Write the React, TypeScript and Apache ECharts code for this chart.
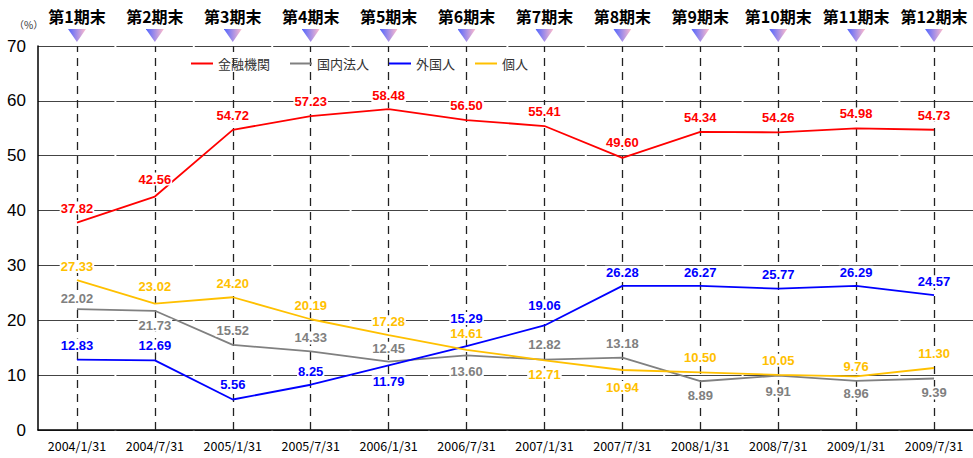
import React, { useEffect, useRef } from "react";
import * as echarts from "echarts";

const dates = ["2004/1/31","2004/7/31","2005/1/31","2005/7/31","2006/1/31","2006/7/31","2007/1/31","2007/7/31","2008/1/31","2008/7/31","2009/1/31","2009/7/31"];
const periods = ["第1期末","第2期末","第3期末","第4期末","第5期末","第6期末","第7期末","第8期末","第9期末","第10期末","第11期末","第12期末"];
const financial = [37.82,42.56,54.72,57.23,58.48,56.50,55.41,49.60,54.34,54.26,54.98,54.73];
const domesticCorp = [22.02,21.73,15.52,14.33,12.45,13.60,12.82,13.18,8.89,9.91,8.96,9.39];
const foreigners = [12.83,12.69,5.56,8.25,11.79,15.29,19.06,26.28,26.27,25.77,26.29,24.57];
const individuals = [27.33,23.02,24.20,20.19,17.28,14.61,12.71,10.94,10.50,10.05,9.76,11.30];
// label placement (t = above, b = below) and extra gap
const financialPos = ["t","t","t","t","t","t","t","t","t","t","t","t"];
const financialGap = [8,11,8,8,7,8,8,9,8,8,8,8];
const domesticPos = ["t","b","t","t","t","b","t","t","b","b","b","b"];
const domesticGap = [4,8,8,7,7,10,9,8,8,9,6,8];
const foreignPos = ["t","t","t","t","b","t","t","t","t","t","t","t"];
const foreignGap = [8,8,8,7,10,21,13,7,7,8,7,7];
const individualPos = ["t","t","t","t","t","t","b","b","t","t","t","t"];
const individualGap = [7,11,7,7,7,10,8,11,8,8,3,8];

const FONT = "'Noto Sans CJK JP', 'Liberation Sans', sans-serif";
const NUMFONT = "'Liberation Sans', Arial, sans-serif";

const triSvg =
  "<svg xmlns='http://www.w3.org/2000/svg' width='18' height='13'><defs><linearGradient id='g' x1='0' y1='0' x2='1' y2='0'><stop offset='0' stop-color='#4f64ff'/><stop offset='1' stop-color='#ffbccc'/></linearGradient></defs><polygon points='0,0 18,0 9,13' fill='url(#g)'/></svg>";
const triUrl = "data:image/svg+xml;charset=utf-8," + encodeURIComponent(triSvg);

function mkSeries(name: string, values: number[], pos: string[], gap: number[], color: string) {
  return {
    name,
    type: "line",
    z: 3,
    data: values.map((v, i) => ({
      value: v,
      label: { position: pos[i] === "t" ? "top" : "bottom", distance: gap[i] },
    })),
    symbol: "circle",
    symbolSize: 0,
    showSymbol: true,
    lineStyle: { color, width: 1.8 },
    itemStyle: { color },
    label: {
      show: true,
      color,
      fontFamily: NUMFONT,
      fontWeight: "bold",
      fontSize: 13,
      backgroundColor: "#fff",
      padding: [0, 1],
      formatter: (p: any) => Number(p.value).toFixed(2),
    },
  };
}

export default function App() {
  const ref = useRef<HTMLDivElement>(null);
  useEffect(() => {
    const chart = echarts.init(ref.current!, undefined, { renderer: "svg" });
    const series: any[] = [
      mkSeries("金融機関", financial, financialPos, financialGap, "#ff0000"),
      mkSeries("国内法人", domesticCorp, domesticPos, domesticGap, "#808080"),
      mkSeries("外国人", foreigners, foreignPos, foreignGap, "#0000ff"),
      mkSeries("個人", individuals, individualPos, individualGap, "#ffc000"),
    ];
    series[0].markLine = {
      silent: true,
      z: 1,
      symbol: "none",
      label: { show: false },
      lineStyle: { color: "#222", type: [8, 6], width: 1.3 },
      data: dates.map((d) => ({ xAxis: d })),
    };
    chart.setOption({
      animation: false,
      backgroundColor: "#fff",
      textStyle: { fontFamily: FONT },
      grid: { left: 38, top: 46, width: 941, height: 384 },
      legend: {
        left: 186,
        top: 52,
        icon: "rect",
        itemWidth: 22,
        itemHeight: 2,
        itemGap: 20,
        textStyle: { fontSize: 13, color: "#333", fontFamily: FONT },
        data: ["金融機関", "国内法人", "外国人", "個人"],
      },
      graphic: [
        { type: "text", left: 14, top: 19, style: { text: "（%）", fontSize: 10, fill: "#333", fontFamily: FONT } },
      ],
      xAxis: [
        {
          type: "category",
          data: dates,
          position: "bottom",
          axisLine: { lineStyle: { color: "#000", width: 1.5 } },
          axisTick: { show: false },
          axisLabel: { color: "#000", fontSize: 12.5, margin: 9, fontFamily: FONT, interval: 0 },
        },
        {
          type: "category",
          data: periods,
          position: "top",
          axisLine: { show: false },
          axisTick: { show: false },
          axisLabel: {
            interval: 0,
            margin: 4,
            formatter: (v: string) => `{t|${v}}\n{i|}`,
            rich: {
              t: { fontSize: 16, fontWeight: "bold", color: "#000", fontFamily: FONT, lineHeight: 26, align: "center" },
              i: { width: 18, height: 13, lineHeight: 13, align: "center", backgroundColor: { image: triUrl } },
            },
          },
        },
      ],
      yAxis: {
        type: "value",
        min: 0,
        max: 70,
        interval: 10,
        axisLine: { show: true, lineStyle: { color: "#000", width: 1.5 } },
        axisTick: { show: false },
        axisLabel: { color: "#000", fontSize: 17, margin: 12, fontFamily: NUMFONT },
        splitLine: { lineStyle: { color: "#444", width: 1.2, type: [76.4, 2] } },
      },
      series,
    });
    return () => chart.dispose();
  }, []);
  return <div ref={ref} style={{ width: 973, height: 458, position: "absolute", left: 0, top: 0 }} />;
}
